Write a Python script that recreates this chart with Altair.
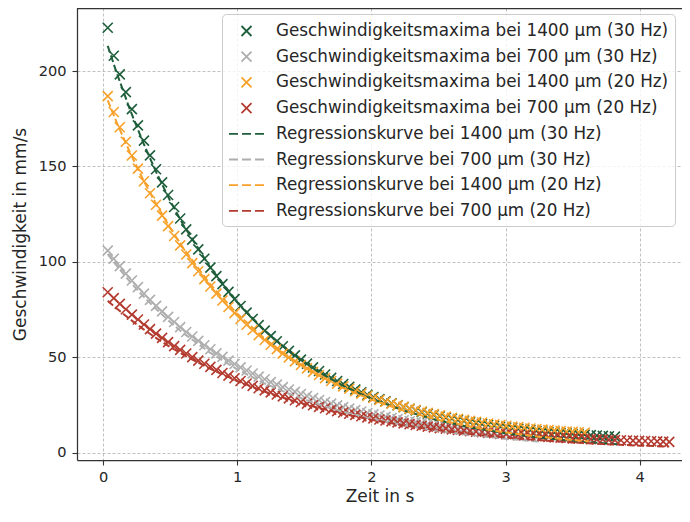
import altair as alt
import pandas as pd

# ---- data ----
T = [0.035, 0.08, 0.125, 0.17, 0.215, 0.26, 0.305, 0.35, 0.395, 0.44,
     0.485, 0.53, 0.575, 0.62, 0.665, 0.71, 0.755, 0.8, 0.845, 0.89,
     0.935, 0.98, 1.025, 1.07, 1.115, 1.16, 1.205, 1.25, 1.295, 1.34,
     1.385, 1.43, 1.475, 1.52, 1.565, 1.61, 1.655, 1.7, 1.745, 1.79,
     1.835, 1.88, 1.925, 1.97, 2.015, 2.06, 2.105, 2.15, 2.195, 2.24,
     2.285, 2.33, 2.375, 2.42, 2.465, 2.51, 2.555, 2.6, 2.645, 2.69,
     2.735, 2.78, 2.825, 2.87, 2.915, 2.96, 3.005, 3.05, 3.095, 3.14,
     3.185, 3.23, 3.275, 3.32, 3.365, 3.41, 3.455, 3.5, 3.545, 3.59,
     3.635, 3.68, 3.725, 3.77, 3.815, 3.86, 3.905, 3.95, 3.995, 4.04,
     4.085, 4.13, 4.175, 4.22]

green_max = [222.7, 208.0, 198.2, 188.9, 180.0, 171.5, 163.5, 155.8, 148.5, 141.6,
             135.0, 128.7, 122.7, 117.0, 111.6, 106.5, 101.6, 96.9, 92.5, 88.3,
             84.2, 80.4, 76.8, 73.3, 70.0, 66.8, 63.9, 61.0, 58.3, 55.7,
             53.3, 50.9, 48.7, 46.6, 44.6, 42.7, 40.9, 39.1, 37.5, 35.9,
             34.4, 33.0, 31.6, 30.3, 29.1, 28.0, 26.9, 25.8, 24.8, 23.8,
             22.9, 22.1, 21.2, 20.4, 19.7, 19.0, 18.3, 17.7, 17.1, 16.5,
             15.9, 15.4, 14.9, 14.4, 14.0, 13.5, 13.1, 12.7, 12.4, 12.0,
             11.7, 11.3, 11.0, 10.7, 10.5, 10.2, 10.0, 9.7, 9.5, 9.3,
             9.1, 8.9, 8.7, 8.5, 8.3]

grey_max = [105.8, 101.6, 97.7, 93.8, 90.2, 86.7, 83.3, 80.0, 76.9, 74.0,
            71.1, 68.4, 65.7, 63.2, 60.8, 58.5, 56.2, 54.1, 52.0, 50.1,
            48.2, 46.4, 44.6, 43.0, 41.4, 39.8, 38.4, 36.9, 35.6, 34.3,
            33.0, 31.8, 30.7, 29.6, 28.5, 27.5, 26.5, 25.6, 24.7, 23.8,
            23.0, 22.2, 21.5, 20.7, 20.0, 19.4, 18.7, 18.1, 17.5, 16.9,
            16.4, 15.9, 15.4, 14.9, 14.4, 14.0, 13.5, 13.1, 12.7, 12.4,
            12.0, 11.7, 11.3, 11.0, 10.7, 10.4, 10.1, 9.9, 9.6, 9.4,
            9.1, 8.9]

orange_max = [186.8, 178.5, 170.5, 162.9, 155.7, 148.8, 142.2, 135.9, 129.9, 124.2,
              118.7, 113.5, 108.6, 103.8, 99.3, 95.0, 90.9, 87.0, 83.3, 79.7,
              76.3, 73.1, 70.0, 67.0, 64.2, 61.5, 59.0, 56.5, 54.2, 52.0,
              49.9, 47.8, 45.9, 44.1, 42.3, 40.6, 39.0, 37.5, 36.1, 34.7,
              33.4, 32.1, 30.9, 29.7, 28.6, 27.6, 26.6, 25.6, 24.7, 23.9,
              23.0, 22.3, 21.5, 20.8, 20.1, 19.5, 18.8, 18.2, 17.7, 17.1,
              16.6, 16.1, 15.7, 15.2, 14.8, 14.4, 14.0, 13.6, 13.3, 13.0,
              12.6, 12.3, 12.0, 11.8, 11.5, 11.3, 11.0, 10.8, 10.6, 10.4]

red_max = [84.0, 80.9, 77.9, 75.1, 72.3, 69.7, 67.1, 64.7, 62.3, 60.1,
           57.9, 55.8, 53.8, 51.9, 50.0, 48.2, 46.5, 44.9, 43.3, 41.7,
           40.3, 38.9, 37.5, 36.2, 34.9, 33.7, 32.6, 31.5, 30.4, 29.4,
           28.4, 27.4, 26.5, 25.6, 24.8, 23.9, 23.2, 22.4, 21.7, 21.0,
           20.3, 19.7, 19.0, 18.4, 17.9, 17.3, 16.8, 16.3, 15.8, 15.3,
           14.9, 14.4, 14.0, 13.6, 13.2, 12.8, 12.5, 12.1, 11.8, 11.5,
           11.2, 10.9, 10.6, 10.3, 10.1, 9.8, 9.6, 9.3, 9.1, 8.9,
           8.7, 8.5, 8.3, 8.1, 7.9, 7.8, 7.6, 7.4, 7.3, 7.2,
           7.0, 6.9, 6.8, 6.6, 6.5, 6.4, 6.3, 6.2, 6.1, 6.0,
           5.9, 5.8, 5.7, 5.6]

fit_t_green = [0.035, 0.1, 0.2, 0.3, 0.4, 0.5, 0.6, 0.8, 1.0, 1.2, 1.4, 1.6, 1.8, 2.0,
               2.25, 2.5, 2.75, 3.0, 3.25, 3.5, 3.85]
green_fit = [213.2, 199.4, 179.9, 162.3, 146.4, 132.0, 119.1, 97.0, 78.9, 64.2, 52.3, 42.5,
             34.6, 28.2, 21.8, 16.8, 13.0, 10.1, 7.8, 6.0, 4.2]

fit_t_grey = [0.035, 0.1, 0.2, 0.3, 0.4, 0.5, 0.6, 0.8, 1.0, 1.2, 1.4, 1.6, 1.8, 2.0,
              2.25, 2.5, 2.75, 3.0, 3.26]
grey_fit = [104.0, 98.1, 89.6, 81.9, 74.9, 68.4, 62.5, 52.2, 43.6, 36.4, 30.4, 25.4, 21.2,
            17.7, 14.2, 11.3, 9.0, 7.2, 5.7]

fit_t_orange = [0.035, 0.1, 0.2, 0.3, 0.4, 0.5, 0.6, 0.8, 1.0, 1.2, 1.4, 1.6, 1.8, 2.0,
                2.25, 2.5, 2.75, 3.0, 3.25, 3.5, 3.62]
orange_fit = [184.6, 173.3, 157.4, 142.9, 129.7, 117.8, 106.9, 88.1, 72.7, 59.9, 49.4, 40.7,
              33.5, 27.7, 21.7, 17.1, 13.4, 10.5, 8.3, 6.5, 5.8]

fit_t_red = [0.035, 0.1, 0.2, 0.3, 0.4, 0.5, 0.6, 0.8, 1.0, 1.2, 1.4, 1.6, 1.8, 2.0,
             2.25, 2.5, 2.75, 3.0, 3.25, 3.5, 3.75, 4.0, 4.22]
red_fit = [79.5, 75.6, 69.9, 64.7, 59.8, 55.3, 51.2, 43.8, 37.5, 32.0, 27.4, 23.5, 20.1,
           17.2, 14.1, 11.6, 9.6, 7.9, 6.5, 5.3, 4.4, 3.6, 3.1]

point_labels = ["Geschwindigkeitsmaxima bei 1400 µm (30 Hz)",
                "Geschwindigkeitsmaxima bei 700 µm (30 Hz)",
                "Geschwindigkeitsmaxima bei 1400 µm (20 Hz)",
                "Geschwindigkeitsmaxima bei 700 µm (20 Hz)"]
fit_labels = ["Regressionskurve bei 1400 µm (30 Hz)",
              "Regressionskurve bei 700 µm (30 Hz)",
              "Regressionskurve bei 1400 µm (20 Hz)",
              "Regressionskurve bei 700 µm (20 Hz)"]
colors = ["#1e5e3b", "#aeaeae", "#f7a12a", "#b33a2f"]

# ---- build tables ----
rows = []
for lab, vals in zip(point_labels, [green_max, grey_max, orange_max, red_max]):
    for t, v in zip(T, vals):
        rows.append({"t": t, "v": v, "label": lab})
pts = pd.DataFrame(rows)

rows = []
for i, (lab, ts, vals) in enumerate(zip(fit_labels,
                                         [fit_t_green, fit_t_grey, fit_t_orange, fit_t_red],
                                         [green_fit, grey_fit, orange_fit, red_fit])):
    for j, (t, v) in enumerate(zip(ts, vals)):
        rows.append({"t": t, "v": v, "label": lab, "o": j, "k": i})
fits = pd.DataFrame(rows)

all_labels = point_labels + fit_labels
XPATH = "M-0.5,-0.5L0.5,0.5M-0.5,0.5L0.5,-0.5"
DASHPATH = "M-1.75,0L-0.85,0M-0.45,0L0.45,0M0.85,0L1.75,0"

color_scale = alt.Scale(domain=all_labels, range=colors + colors)
shape_scale = alt.Scale(domain=all_labels, range=[XPATH] * 4 + [DASHPATH] * 4)

W, H = 605, 452
xs = alt.Scale(domain=[-0.194, 4.315], nice=False, zero=False)
ys = alt.Scale(domain=[-3.93, 233.03], nice=False, zero=False)

xenc = alt.X("t:Q", scale=xs, axis=alt.Axis(values=[0, 1, 2, 3, 4], format="d", title="Zeit in s",
                                             labelPadding=4, titlePadding=5))
yenc = alt.Y("v:Q", scale=ys, axis=alt.Axis(values=[0, 50, 100, 150, 200], format="d",
                                             title="Geschwindigkeit in mm/s",
                                             labelPadding=6, titlePadding=9))

legend = alt.Legend(
    title=None, orient="none", legendX=145, legendY=6, direction="vertical",
    padding=6, symbolSize=400, symbolStrokeWidth=1.8, symbolOffset=7.5,
    labelOffset=18.5, labelFontSize=16.8, labelFont="DejaVu Sans", labelColor="#262626",
    labelLimit=0, rowPadding=5.7, fillColor="rgba(255,255,255,0.8)",
    strokeColor="#cccccc", cornerRadius=4, symbolFillColor="transparent",
)

points = alt.Chart(pts).mark_point(filled=False, size=400, strokeWidth=1.6, opacity=1).encode(
    x=xenc, y=yenc,
    color=alt.Color("label:N", scale=color_scale, legend=legend, sort=all_labels),
    shape=alt.Shape("label:N", scale=shape_scale, legend=legend, sort=all_labels),
)

lines = alt.Chart(fits).mark_line(strokeDash=[7, 3], strokeWidth=2).encode(
    x=alt.X("t:Q", scale=xs), y=alt.Y("v:Q", scale=ys),
    color=alt.Color("label:N", scale=color_scale, legend=None),
    detail="k:N", order="o:Q",
)

top_spine = alt.Chart(pd.DataFrame({"a": [0]})).mark_rule(color="#333333", strokeWidth=1.25).encode(
    x=alt.value(0), x2=alt.value(W), y=alt.value(0.6)
)

chart = alt.layer(points, lines, top_spine).properties(
    width=W, height=H, autosize="none",
    padding={"left": 69, "top": 0, "right": 0, "bottom": 48},
).configure_view(stroke=None).configure_axis(
    labelFont="DejaVu Sans", labelFontSize=14.6, labelColor="#262626",
    titleFont="DejaVu Sans", titleFontSize=17, titleFontWeight="normal", titleColor="#262626",
    domainColor="#333333", domainWidth=1.25, tickColor="#333333", tickSize=5, tickWidth=1.1,
    gridColor="#b0b0b0", gridDash=[3, 2], gridWidth=0.8,
)

chart.save("out.html", embed_options={"renderer": "svg", "actions": False})
